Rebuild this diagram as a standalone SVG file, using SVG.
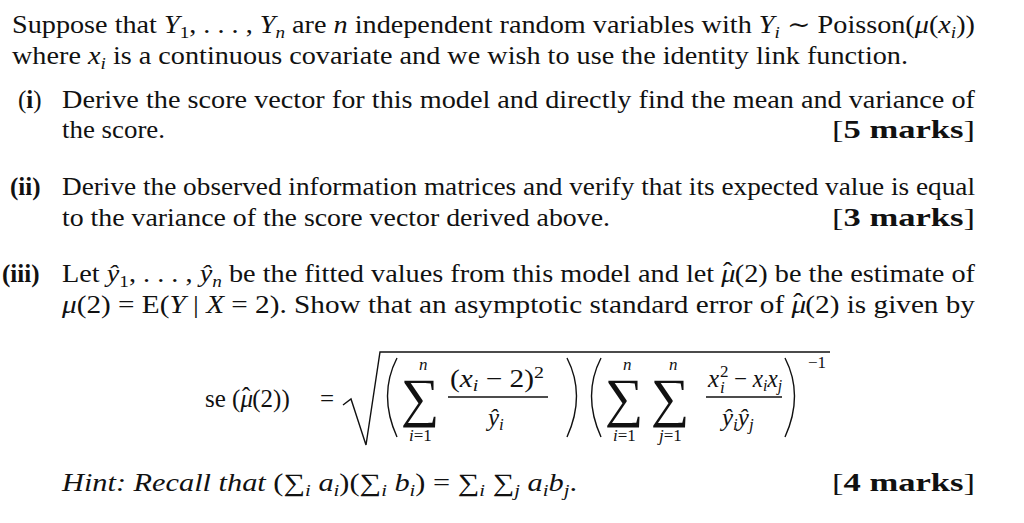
<svg xmlns="http://www.w3.org/2000/svg" width="1024" height="523" viewBox="0 0 1024 523">
<style>
text{font-family:"Liberation Serif","DejaVu Serif",serif;font-size:25px;fill:#111}
.i{font-style:italic}
.b{font-weight:bold}
.s{font-size:17px}
.sig{font-size:54px}
.ln{stroke:#111;stroke-width:1.4;fill:none}
</style>
<rect width="1024" height="523" fill="#fff"/>
<text x="12" y="33" textLength="963" lengthAdjust="spacingAndGlyphs">Suppose that <tspan class="i">Y</tspan><tspan class="s" dy="5">1</tspan><tspan dy="-5">, . . . , </tspan><tspan class="i">Y</tspan><tspan class="s i" dy="5">n</tspan><tspan dy="-5"> are </tspan><tspan class="i">n</tspan> independent random variables with <tspan class="i">Y</tspan><tspan class="s i" dy="5">i</tspan><tspan dy="-5"> ∼ Poisson(</tspan><tspan class="i">μ</tspan>(<tspan class="i">x</tspan><tspan class="s i" dy="5">i</tspan><tspan dy="-5">))</tspan></text>
<text x="12" y="64" textLength="896" lengthAdjust="spacingAndGlyphs">where <tspan class="i">x</tspan><tspan class="s i" dy="5">i</tspan><tspan dy="-5"> is a continuous covariate and we wish to use the identity link function.</tspan></text>
<text x="18" y="108">(<tspan class="b">i</tspan>)</text>
<text x="62" y="108" textLength="913" lengthAdjust="spacingAndGlyphs">Derive the score vector for this model and directly find the mean and variance of</text>
<text x="62" y="138" textLength="103" lengthAdjust="spacingAndGlyphs">the score.</text>
<text x="832" y="138" textLength="143" lengthAdjust="spacingAndGlyphs">[<tspan class="b">5 marks</tspan>]</text>
<text x="10" y="195" class="b">(ii)</text>
<text x="62" y="195" textLength="913" lengthAdjust="spacingAndGlyphs">Derive the observed information matrices and verify that its expected value is equal</text>
<text x="62" y="226" textLength="548" lengthAdjust="spacingAndGlyphs">to the variance of the score vector derived above.</text>
<text x="832" y="226" textLength="143" lengthAdjust="spacingAndGlyphs">[<tspan class="b">3 marks</tspan>]</text>
<text x="2" y="282" class="b">(iii)</text>
<text x="62" y="282" textLength="913" lengthAdjust="spacingAndGlyphs">Let <tspan class="i">ŷ</tspan><tspan class="s" dy="5">1</tspan><tspan dy="-5">, . . . , </tspan><tspan class="i">ŷ</tspan><tspan class="s i" dy="5">n</tspan><tspan dy="-5"> be the fitted values from this model and let </tspan><tspan class="i">μ</tspan><tspan dx="-11" dy="-2">ˆ</tspan><tspan dx="2" dy="2">(2) be the estimate of</tspan></text>
<text x="62" y="313" textLength="913" lengthAdjust="spacingAndGlyphs"><tspan class="i">μ</tspan>(2) = E(<tspan class="i">Y</tspan> | <tspan class="i">X</tspan> = 2). Show that an asymptotic standard error of <tspan class="i">μ</tspan><tspan dx="-11" dy="-2">ˆ</tspan><tspan dx="2" dy="2">(2) is given by</tspan></text>
<g id="formula">
<text x="205" y="407">se (<tspan class="i">μ</tspan><tspan dx="-11" dy="-2">ˆ</tspan><tspan dx="2" dy="2">(2))</tspan></text>
<text x="320" y="407">=</text>
<path class="ln" d="M343 405 L351 399 L366 445 L380 352 L830 352"/>
<path class="ln" d="M397 358 Q378 395 397 437"/>
<path class="ln" d="M567 358 Q586 395 567 437"/>
<path class="ln" d="M601 358 Q582 395 601 437"/>
<path class="ln" d="M785 358 Q804 395 785 437"/>
<text x="401" y="416" class="sig">∑</text>
<text x="419" y="370" class="s i">n</text>
<text x="409" y="441" class="s"><tspan class="i">i</tspan>=1</text>
<text x="450" y="387" textLength="94" lengthAdjust="spacingAndGlyphs">(<tspan class="i">x</tspan><tspan class="s i" dy="4">i</tspan><tspan dy="-4"> − 2)</tspan><tspan class="s" dy="-9">2</tspan></text>
<line class="ln" x1="448" y1="397" x2="548" y2="397"/>
<text x="488" y="426" class="i">ŷ<tspan class="s" dy="4">i</tspan></text>
<text x="605" y="416" class="sig">∑</text>
<text x="623" y="370" class="s i">n</text>
<text x="613" y="441" class="s"><tspan class="i">i</tspan>=1</text>
<text x="651" y="416" class="sig">∑</text>
<text x="669" y="370" class="s i">n</text>
<text x="659" y="441" class="s"><tspan class="i">j</tspan>=1</text>
<text x="708" y="387" class="i">x</text>
<text x="720" y="377" class="s">2</text>
<text x="720" y="393" class="s i">i</text>
<text x="734" y="387" textLength="48" lengthAdjust="spacingAndGlyphs">− <tspan class="i">x</tspan><tspan class="s i" dy="4">i</tspan><tspan class="i" dy="-4">x</tspan><tspan class="s i" dy="4">j</tspan></text>
<line class="ln" x1="706" y1="397" x2="782" y2="397"/>
<text x="722" y="426" class="i">ŷ<tspan class="s" dy="4">i</tspan><tspan dy="-4">ŷ</tspan><tspan class="s" dy="4">j</tspan></text>
<text x="808" y="368" class="s">−1</text>
</g>
<text x="62" y="491" textLength="515" lengthAdjust="spacingAndGlyphs"><tspan class="i">Hint: Recall that </tspan>(∑<tspan class="s i" dy="5">i</tspan><tspan class="i" dy="-5"> a</tspan><tspan class="s i" dy="5">i</tspan><tspan dy="-5">)(∑</tspan><tspan class="s i" dy="5">i</tspan><tspan class="i" dy="-5"> b</tspan><tspan class="s i" dy="5">i</tspan><tspan dy="-5">) = ∑</tspan><tspan class="s i" dy="5">i</tspan><tspan dy="-5"> ∑</tspan><tspan class="s i" dy="5">j</tspan><tspan class="i" dy="-5"> a</tspan><tspan class="s i" dy="5">i</tspan><tspan class="i" dy="-5">b</tspan><tspan class="s i" dy="5">j</tspan><tspan dy="-5">.</tspan></text>
<text x="832" y="491" textLength="143" lengthAdjust="spacingAndGlyphs">[<tspan class="b">4 marks</tspan>]</text>
</svg>
